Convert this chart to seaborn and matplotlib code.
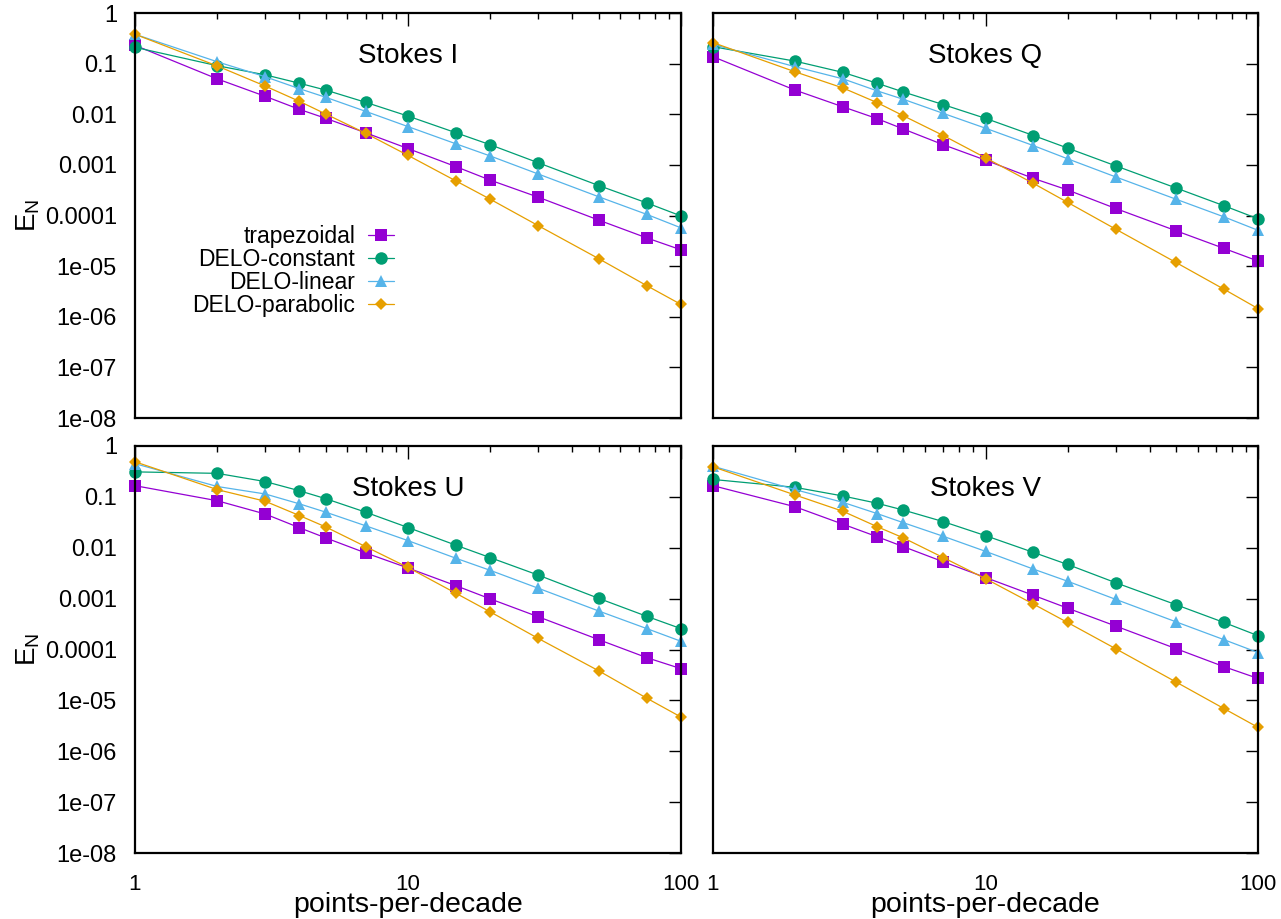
import numpy as np
import pandas as pd
import matplotlib
matplotlib.use("Agg")
import matplotlib.pyplot as plt
import seaborn as sns
from matplotlib.ticker import FixedLocator, NullFormatter, NullLocator

# ---------------- data ----------------
x_ppd = [1, 2, 3, 4, 5, 7, 10, 15, 20, 30, 50, 75, 100]

methods = ["trapezoidal", "DELO-constant", "DELO-linear", "DELO-parabolic"]
panels = ["Stokes I", "Stokes Q", "Stokes U", "Stokes V"]

I_trap = [0.23, 0.05, 0.0226, 0.0125, 0.0083, 0.0043, 0.0021, 0.00092, 0.0005, 0.00023, 8.1e-5, 3.6e-5, 2.1e-5]
I_const = [0.21, 0.091, 0.06, 0.041, 0.030, 0.0172, 0.0092, 0.0043, 0.0025, 0.0011, 0.00039, 0.000177, 9.8e-5]
I_lin = [0.38, 0.109, 0.055, 0.032, 0.0216, 0.0114, 0.0057, 0.0026, 0.0015, 0.00066, 0.000234, 0.000105, 5.7e-5]
I_para = [0.38, 0.09, 0.036, 0.018, 0.0101, 0.0042, 0.00154, 0.00048, 0.00021, 6.3e-5, 1.4e-5, 4.1e-6, 1.75e-6]

Q_trap = [0.137, 0.030, 0.014, 0.0082, 0.0051, 0.0025, 0.00124, 0.00054, 0.00032, 0.000138, 5.0e-5, 2.24e-5, 1.26e-5]
Q_const = [0.216, 0.112, 0.067, 0.041, 0.0275, 0.0155, 0.0083, 0.0038, 0.00215, 0.00096, 0.00035, 0.000156, 8.6e-5]
Q_lin = [0.24, 0.087, 0.05, 0.029, 0.0197, 0.0104, 0.0053, 0.0024, 0.00132, 0.00058, 0.00021, 9.4e-5, 5.1e-5]
Q_para = [0.26, 0.069, 0.033, 0.017, 0.0093, 0.0038, 0.00138, 0.00043, 0.000182, 5.4e-5, 1.18e-5, 3.5e-6, 1.45e-6]

U_trap = [0.166, 0.084, 0.046, 0.0248, 0.0156, 0.0079, 0.0040, 0.00179, 0.00099, 0.00044, 0.000156, 6.9e-5, 4.2e-5]
U_const = [0.31, 0.29, 0.20, 0.132, 0.092, 0.05, 0.025, 0.0112, 0.0064, 0.0029, 0.00101, 0.000448, 0.000257]
U_lin = [0.45, 0.16, 0.114, 0.073, 0.05, 0.027, 0.0138, 0.0062, 0.0036, 0.0016, 0.00057, 0.000257, 0.000145]
U_para = [0.49, 0.139, 0.082, 0.043, 0.0256, 0.0105, 0.0041, 0.00127, 0.00055, 0.000165, 3.8e-5, 1.1e-5, 4.7e-6]

V_trap = [0.166, 0.064, 0.029, 0.0165, 0.0105, 0.0053, 0.0026, 0.00116, 0.00065, 0.00029, 0.000104, 4.6e-5, 2.7e-5]
V_const = [0.22, 0.154, 0.104, 0.075, 0.055, 0.0326, 0.0173, 0.0081, 0.0047, 0.00206, 0.00076, 0.00034, 0.000187]
V_lin = [0.40, 0.139, 0.078, 0.047, 0.031, 0.0168, 0.0085, 0.0038, 0.0022, 0.00097, 0.00035, 0.000156, 8.7e-5]
V_para = [0.39, 0.109, 0.052, 0.026, 0.0156, 0.0064, 0.00247, 0.00078, 0.00034, 0.000104, 2.3e-5, 6.9e-6, 2.95e-6]

y_ticks = [1, 0.1, 0.01, 0.001, 0.0001, 1e-5, 1e-6, 1e-7, 1e-8]
y_ticklabels = ["1", "0.1", "0.01", "0.001", "0.0001", "1e-05", "1e-06", "1e-07", "1e-08"]
x_ticks = [1, 10, 100]
x_ticklabels = ["1", "10", "100"]
x_minor = [2, 3, 4, 5, 6, 7, 8, 9, 20, 30, 40, 50, 60, 70, 80, 90]

series = {
    "Stokes I": [I_trap, I_const, I_lin, I_para],
    "Stokes Q": [Q_trap, Q_const, Q_lin, Q_para],
    "Stokes U": [U_trap, U_const, U_lin, U_para],
    "Stokes V": [V_trap, V_const, V_lin, V_para],
}

# ---------------- style ----------------
colors = {"trapezoidal": "#9400D3", "DELO-constant": "#009E73",
          "DELO-linear": "#56B4E9", "DELO-parabolic": "#E69F00"}
markers = {"trapezoidal": "s", "DELO-constant": "o",
           "DELO-linear": "^", "DELO-parabolic": "D"}
msizes = {"trapezoidal": 9.0, "DELO-constant": 9.0,
          "DELO-linear": 8.5, "DELO-parabolic": 5.8}

sns.set_style("white")
plt.rcParams["font.family"] = ["Liberation Sans", "DejaVu Sans"]
plt.rcParams["mathtext.default"] = "regular"
for key in ["text.color", "axes.labelcolor", "xtick.color", "ytick.color"]:
    plt.rcParams[key] = "black"

W, H = 1281, 919
fig = plt.figure(figsize=(W / 100, H / 100), dpi=100)

# axes boxes in pixels (left, top, right, bottom)
boxes = [(135, 13, 681, 418), (713, 13, 1258, 418),
         (135, 446, 681, 853), (713, 446, 1258, 853)]

for i, (name, box) in enumerate(zip(panels, boxes)):
    l, t, r, b = box
    ax = fig.add_axes([l / W, (H - b) / H, (r - l) / W, (b - t) / H])
    df = pd.DataFrame({"x": x_ppd})
    for m, vals in zip(methods, series[name]):
        df[m] = vals
    for m in methods:
        sns.lineplot(data=df, x="x", y=m, ax=ax, color=colors[m], marker=markers[m],
                     markersize=msizes[m], markeredgewidth=0, linewidth=0.9,
                     label=m, clip_on=False, legend=False)
    ax.set_xscale("log")
    ax.set_yscale("log")
    ax.set_xlim(1, 100)
    ax.set_ylim(1e-8, 1)

    ax.xaxis.set_major_locator(FixedLocator(x_ticks))
    ax.xaxis.set_minor_locator(FixedLocator(x_minor))
    ax.xaxis.set_minor_formatter(NullFormatter())
    ax.yaxis.set_major_locator(FixedLocator(y_ticks))
    ax.yaxis.set_minor_locator(NullLocator())

    if i >= 2:
        ax.set_xticklabels(x_ticklabels)
        ax.set_xlabel("points-per-decade", fontsize=20.5)
        ax.xaxis.set_label_coords(0.5, -0.097)
    else:
        ax.set_xticklabels([])
        ax.set_xlabel("")
    if i % 2 == 0:
        ax.set_yticklabels(y_ticklabels)
        ax.set_ylabel("$E_N$", fontsize=20)
        ax.yaxis.set_label_coords(-0.17, 0.5)
    else:
        ax.set_yticklabels([])
        ax.set_ylabel("")

    ax.tick_params(which="both", direction="in", top=True, right=True,
                   colors="black")
    ax.tick_params(axis="x", which="major", length=9, width=1.0, pad=15, labelsize=16)
    ax.tick_params(axis="x", which="minor", length=4.5, width=1.0)
    ax.tick_params(axis="y", which="major", length=9, width=1.0, pad=13, labelsize=17)
    for sp in ax.spines.values():
        sp.set_linewidth(1.6)
        sp.set_color("black")

    ax.text(0.5, 0.876, name, transform=ax.transAxes, ha="center",
            va="baseline", fontsize=20)

    if i == 0:
        leg = ax.legend(loc="center right", bbox_to_anchor=((394 - 135) / 546, 1 - (271 - 13) / 405),
                        frameon=False, markerfirst=False, fontsize=16.5,
                        handlelength=1.15, handletextpad=0.55, labelspacing=0.0,
                        borderpad=0, borderaxespad=0)
        for txt in leg.get_texts():
            txt.set_ha("right")
        leg._legend_box.align = "right"
    else:
        if ax.get_legend() is not None:
            ax.get_legend().remove()

fig.savefig("out.png", dpi=100)
